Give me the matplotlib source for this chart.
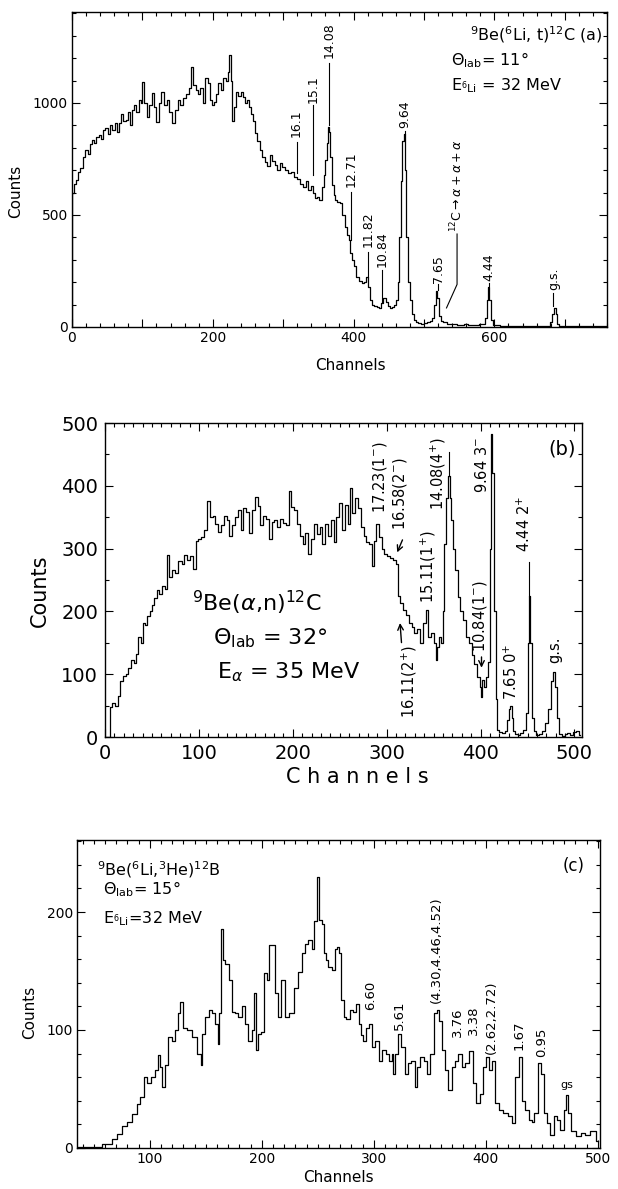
import numpy as np
import matplotlib
matplotlib.use('Agg')
import matplotlib.pyplot as plt
from matplotlib.ticker import MultipleLocator, FuncFormatter

plt.rcParams['font.family'] = ['DejaVu Sans']
plt.rcParams['mathtext.fontset'] = 'dejavusans'

# ---- panel (a): 9Be(6Li,t)12C ----
a_chan = [0, 1, 4, 7, 10, 14, 17, 21, 24, 27, 30, 33, 36, 40, 43, 46, 49, 52, 55, 59,
          62, 65, 68, 71, 75, 78, 81, 84, 87, 90, 93, 96, 99, 101, 104, 108, 111, 115, 118, 122,
          125, 129, 133, 136, 140, 144, 148, 152, 156, 160, 164, 167, 171, 174, 177, 181, 184, 188, 191, 194,
          197, 200, 203, 206, 210, 213, 217, 220, 222, 225, 227, 229, 231, 234, 238, 241, 244, 247, 250, 253,
          255, 258, 262, 265, 269, 272, 276, 279, 283, 286, 290, 293, 297, 300, 304, 309, 313, 318, 322, 326,
          330, 334, 337, 341, 344, 347, 350, 353, 356, 359, 361, 363, 365, 366, 368, 370, 373, 375, 379, 382,
          386, 389, 392, 394, 397, 399, 402, 406, 410, 413, 416, 420, 422, 424, 427, 431, 435, 438, 441, 444,
          447, 450, 453, 456, 459, 462, 464, 466, 468, 470, 472, 474, 476, 478, 481, 484, 487, 490, 494, 498,
          502, 506, 510, 513, 516, 518, 520, 522, 525, 530, 535, 540, 545, 550, 555, 560, 565, 570, 575, 580,
          585, 588, 590, 592, 594, 596, 600, 605, 610, 620, 630, 640, 650, 660, 670, 678, 681, 684, 686, 688,
          690, 694, 700, 710, 720, 730, 740, 750, 758]
a_counts = [0, 600, 640, 656, 690, 709, 760, 790, 770, 815, 835, 820, 850, 857, 840, 880, 888, 860, 900, 879,
            910, 870, 910, 950, 920, 924, 960, 900, 969, 990, 960, 1013, 1000, 1095, 1000, 939, 990, 1043, 980, 917,
            1000, 1050, 990, 1013, 960, 910, 970, 1013, 990, 1020, 1040, 1066, 1162, 1080, 1058, 1040, 1066, 1000, 1110, 1090,
            1013, 990, 1005, 1040, 1087, 1060, 1110, 1100, 1140, 1214, 1100, 920, 980, 1050, 1030, 1050, 1028, 1000, 1013, 980,
            950, 920, 865, 830, 790, 760, 738, 720, 768, 740, 723, 700, 730, 715, 700, 686, 690, 671, 660, 640,
            626, 650, 612, 630, 600, 575, 580, 567, 626, 680, 745, 820, 894, 870, 760, 634, 590, 567, 560, 553,
            500, 447, 410, 388, 330, 299, 270, 225, 205, 195, 200, 223, 180, 120, 100, 95, 90, 85, 105, 130,
            110, 95, 85, 90, 100, 120, 200, 400, 650, 830, 860, 700, 400, 200, 120, 60, 30, 20, 18, 15,
            17, 20, 25, 40, 100, 160, 130, 50, 25, 20, 15, 12, 12, 10, 10, 12, 10, 8, 10, 12,
            15, 40, 120, 180, 120, 30, 10, 8, 6, 5, 5, 4, 5, 4, 5, 6, 20, 60, 85, 60,
            15, 5, 4, 3, 4, 3, 4, 3, 3]
# label, channel, text bottom, line top, line bottom
a_peaks = [('16.1', 319, 848, 826, 688), ('15.1', 342, 1000, 990, 680),
           ('14.08', 365, 1200, 1180, 900), ('12.71', 397, 625, 603, 390),
           ('11.82', 421, 357, 335, 225), ('10.84', 440, 268, 255, 110),
           ('9.64', 473, 888, 875, 860), ('7.65', 520, 196, 192, 165),
           ('4.44', 592, 205, 196, 182), ('g.s.', 684, 165, 150, 95)]

# ---- panel (b): 9Be(alpha,n)12C ----
b_chan = [0, 5, 6, 9, 12, 15, 18, 21, 23, 26, 29, 32, 34, 37, 39, 41, 44, 46, 49, 51,
          54, 57, 59, 62, 65, 67, 70, 73, 76, 80, 83, 86, 89, 92, 95, 98, 101, 104, 107, 110,
          113, 116, 119, 122, 125, 128, 131, 134, 137, 140, 143, 146, 149, 152, 155, 158, 161, 164, 167, 170,
          173, 176, 179, 182, 185, 188, 191, 194, 197, 200, 203, 206, 209, 212, 215, 218, 221, 224, 227, 230,
          233, 236, 239, 242, 245, 248, 251, 254, 257, 260, 262, 265, 268, 271, 274, 277, 280, 283, 285, 287,
          290, 293, 296, 299, 302, 305, 308, 311, 313, 316, 319, 322, 325, 328, 331, 334, 337, 340, 343, 346,
          349, 352, 353, 355, 357, 359, 360, 362, 364, 366, 368, 370, 372, 374, 377, 380, 383, 386, 389, 392,
          395, 398, 400, 401, 403, 405, 407, 409, 411, 412, 413, 415, 417, 419, 421, 424, 427, 429, 431, 432,
          434, 436, 438, 441, 444, 447, 449, 451, 452, 454, 456, 458, 461, 464, 467, 470, 473, 476, 478, 480,
          482, 485, 488, 491, 494, 497, 500, 503, 506]
b_counts = [0, 0, 48, 54, 50, 66, 90, 98, 101, 110, 123, 118, 133, 160, 150, 181, 178, 192, 200, 210,
            222, 234, 228, 240, 236, 290, 255, 266, 262, 280, 276, 290, 282, 288, 268, 312, 315, 318, 330, 376,
            350, 352, 340, 327, 338, 352, 345, 320, 338, 350, 362, 330, 365, 358, 325, 362, 383, 368, 338, 352,
            347, 315, 342, 345, 335, 348, 341, 338, 392, 367, 362, 340, 320, 308, 325, 292, 315, 340, 324, 335,
            308, 340, 320, 345, 310, 350, 372, 330, 370, 340, 396, 356, 380, 365, 335, 320, 311, 308, 272, 312,
            340, 318, 300, 292, 288, 285, 282, 276, 225, 213, 202, 195, 181, 175, 165, 172, 150, 181, 202, 160,
            165, 150, 122, 144, 160, 150, 200, 308, 380, 415, 380, 346, 300, 266, 223, 200, 186, 160, 149, 130,
            117, 96, 80, 64, 91, 80, 96, 120, 300, 483, 420, 200, 60, 11, 8, 6, 10, 27, 45, 50,
            30, 10, 5, 4, 6, 12, 38, 150, 225, 150, 30, 10, 3, 5, 10, 22, 45, 90, 104, 80,
            30, 5, 2, 5, 6, 3, 8, 10, 3]
# label, channel, text bottom
b_peaks = [('17.23(1$^{-}$)', 293, 356), ('16.58(2$^{-}$)', 314, 330),
           ('15.11(1$^{+}$)', 344, 213), ('14.08(4$^{+}$)', 355, 361),
           ('9.64 3$^{-}$', 402, 389), ('10.84(1$^{-}$)', 399, 136),
           ('7.65 0$^{+}$', 433, 59), ('4.44 2$^{+}$', 447, 295), ('g.s.', 479, 118)]

# ---- panel (c): 9Be(6Li,3He)12B ----
c_chan = [35, 50, 64, 69, 73, 78, 82, 87, 90, 93, 96, 99, 103, 106, 108, 110, 112, 115, 118, 121,
          124, 126, 128, 131, 136, 140, 145, 146, 148, 151, 154, 157, 160, 161, 163, 164, 166, 169, 172, 175,
          178, 180, 184, 186, 190, 192, 194, 196, 198, 201, 203, 206, 207, 210, 213, 216, 219, 222, 227, 231,
          234, 237, 240, 243, 246, 248, 250, 252, 255, 256, 258, 261, 264, 267, 268, 270, 272, 274, 277, 280,
          283, 286, 288, 289, 292, 294, 297, 300, 303, 306, 309, 312, 315, 317, 318, 320, 323, 326, 329, 332,
          335, 338, 340, 343, 346, 349, 352, 355, 357, 359, 362, 365, 368, 371, 374, 377, 380, 383, 387, 390,
          393, 396, 399, 401, 404, 407, 410, 413, 417, 422, 425, 428, 431, 433, 437, 440, 442, 445, 448, 451,
          453, 456, 459, 462, 465, 468, 471, 472, 475, 478, 483, 487, 491, 496, 500]
c_counts = [1, 1, 3, 8, 12, 19, 22, 29, 37, 43, 60, 55, 60, 66, 79, 69, 52, 70, 94, 91,
            100, 114, 124, 102, 100, 94, 80, 70, 97, 111, 117, 114, 105, 88, 114, 186, 159, 156, 142, 115,
            114, 111, 120, 105, 91, 100, 131, 83, 97, 98, 148, 142, 172, 172, 131, 111, 142, 111, 114, 136,
            149, 165, 173, 176, 169, 192, 230, 193, 190, 165, 159, 153, 151, 169, 170, 165, 125, 111, 109, 117,
            115, 122, 105, 96, 91, 102, 105, 86, 91, 74, 83, 80, 74, 80, 63, 80, 97, 86, 63, 72,
            74, 52, 69, 77, 74, 63, 80, 114, 117, 108, 83, 66, 49, 69, 74, 80, 69, 72, 82, 55,
            38, 46, 69, 77, 66, 74, 38, 32, 30, 27, 21, 60, 77, 40, 32, 24, 22, 30, 72, 63,
            30, 21, 11, 27, 24, 15, 32, 45, 30, 14, 10, 13, 11, 14, 6]
c_peaks = [('6.60', 297, 117), ('5.61', 323, 100), ('(4.30,4.46,4.52)', 356, 123),
           ('3.76', 375, 94), ('3.38', 389, 96), ('(2.62,2.72)', 405, 80),
           ('1.67', 430, 83), ('0.95', 450, 77)]

fig = plt.figure(figsize=(6.18, 11.89), dpi=100)


def style_axes(ax, size, xmaj, xmin, ymaj, ymin, pad, xlab=None, ylab=None):
    ax.xaxis.set_major_locator(MultipleLocator(xmaj))
    ax.xaxis.set_minor_locator(MultipleLocator(xmin))
    ax.yaxis.set_major_locator(MultipleLocator(ymaj))
    ax.yaxis.set_minor_locator(MultipleLocator(ymin))
    if xlab:
        ax.xaxis.set_major_formatter(FuncFormatter(lambda v, p: '%d' % v if round(v) % xlab == 0 else ''))
    if ylab:
        ax.yaxis.set_major_formatter(FuncFormatter(lambda v, p: '%d' % v if round(v) % ylab == 0 else ''))
    ax.tick_params(which='both', direction='in', top=True, right=True, width=0.8,
                   labelsize=size, pad=pad)
    ax.tick_params(which='major', length=6)
    ax.tick_params(which='minor', length=3)
    for s in ax.spines.values():
        s.set_linewidth(1.0)


# (a)
ax = fig.add_axes([0.1165, 0.7250, 0.8657, 0.2649])
ax.plot(a_chan, a_counts, drawstyle='steps-mid', color='black', lw=0.9)
ax.set_xlim(0, 760)
ax.set_ylim(0, 1406)
style_axes(ax, 10, 100, 20, 500, 100, 3, xlab=200, ylab=500)
ax.set_ylabel('Counts', fontsize=11)
ax.yaxis.set_label_coords(-0.092, 0.43)
ax.set_xlabel('Channels', fontsize=11)
ax.xaxis.set_label_coords(0.52, -0.098)
for lab, ch, tb, l1, l2 in a_peaks:
    ax.text(ch, tb, lab, rotation=90, ha='center', va='bottom', fontsize=9)
    ax.plot([ch, ch], [l1, l2], color='black', lw=0.8)
ax.text(547, 425, r'$^{12}$C$\rightarrow\alpha+\alpha+\alpha$', rotation=90,
        ha='center', va='bottom', fontsize=9)
ax.plot([547, 547, 532], [415, 190, 85], color='black', lw=0.8)
ax.text(754, 1304, r'$^{9}$Be($^{6}$Li, t)$^{12}$C (a)', ha='right', va='center', fontsize=11.5)
ax.text(539, 1192, r'$\Theta_{\rm lab}$= 11°', ha='left', va='center', fontsize=11.5)
ax.text(539, 1076, r'E$_{^6{\rm Li}}$ = 32 MeV', ha='left', va='center', fontsize=11.5)

# (b)
ax = fig.add_axes([0.1699, 0.3801, 0.7718, 0.2641])
ax.plot(b_chan, b_counts, drawstyle='steps-mid', color='black', lw=0.9)
ax.set_xlim(0, 508)
ax.set_ylim(0, 500)
style_axes(ax, 14, 100, 10, 100, 50, 5)
ax.set_ylabel('Counts', fontsize=15)
ax.yaxis.set_label_coords(-0.115, 0.465)
ax.set_xlabel('C h a n n e l s', fontsize=15)
ax.xaxis.set_label_coords(0.528, -0.095)
for lab, ch, tb in b_peaks:
    ax.text(ch, tb, lab, rotation=90, ha='center', va='bottom', fontsize=10.5)
ax.plot([366, 366], [454, 415], color='black', lw=0.8)
ax.plot([452, 452], [279, 225], color='black', lw=0.8)
ax.annotate('', xy=(310, 290), xytext=(318, 318),
            arrowprops=dict(arrowstyle='->', lw=1.0, color='black'))
ax.annotate('', xy=(314, 186), xytext=(316, 146),
            arrowprops=dict(arrowstyle='->', lw=1.0, color='black'))
ax.annotate('', xy=(401, 106), xytext=(401, 132),
            arrowprops=dict(arrowstyle='->', lw=1.0, color='black'))
ax.text(324, 88, '16.11(2$^{+}$)', rotation=90, ha='center', va='center', fontsize=10.5)
ax.text(487, 459, '(b)', ha='center', va='center', fontsize=14)
ax.text(93, 213, r'$^{9}$Be($\alpha$,n)$^{12}$C', ha='left', va='center', fontsize=16)
ax.text(115, 158, r'$\Theta_{\rm lab}$ = 32°', ha='left', va='center', fontsize=16)
ax.text(119, 104, r'E$_{\alpha}$ = 35 MeV', ha='left', va='center', fontsize=16)

# (c)
ax = fig.add_axes([0.1246, 0.0345, 0.8463, 0.2590])
ax.plot(c_chan, c_counts, drawstyle='steps-mid', color='black', lw=0.9)
ax.set_xlim(35, 502)
ax.set_ylim(0, 261)
style_axes(ax, 10, 100, 10, 100, 20, 3)
ax.set_ylabel('Counts', fontsize=11)
ax.yaxis.set_label_coords(-0.076, 0.44)
ax.set_xlabel('Channels', fontsize=11)
ax.xaxis.set_label_coords(0.5, -0.072)
for lab, ch, tb in c_peaks:
    ax.text(ch, tb, lab, rotation=90, ha='center', va='bottom', fontsize=9.5)
ax.text(472, 53, 'gs', ha='center', va='center', fontsize=8)
ax.text(478, 239, '(c)', ha='center', va='center', fontsize=12)
ax.text(53, 236, r'$^{9}$Be($^{6}$Li,$^{3}$He)$^{12}$B', ha='left', va='center', fontsize=11.5)
ax.text(58, 219, r'$\Theta_{\rm lab}$= 15°', ha='left', va='center', fontsize=11.5)
ax.text(58, 194, r'E$_{^6{\rm Li}}$=32 MeV', ha='left', va='center', fontsize=11.5)

fig.savefig('out.png', dpi=100, facecolor='white')
